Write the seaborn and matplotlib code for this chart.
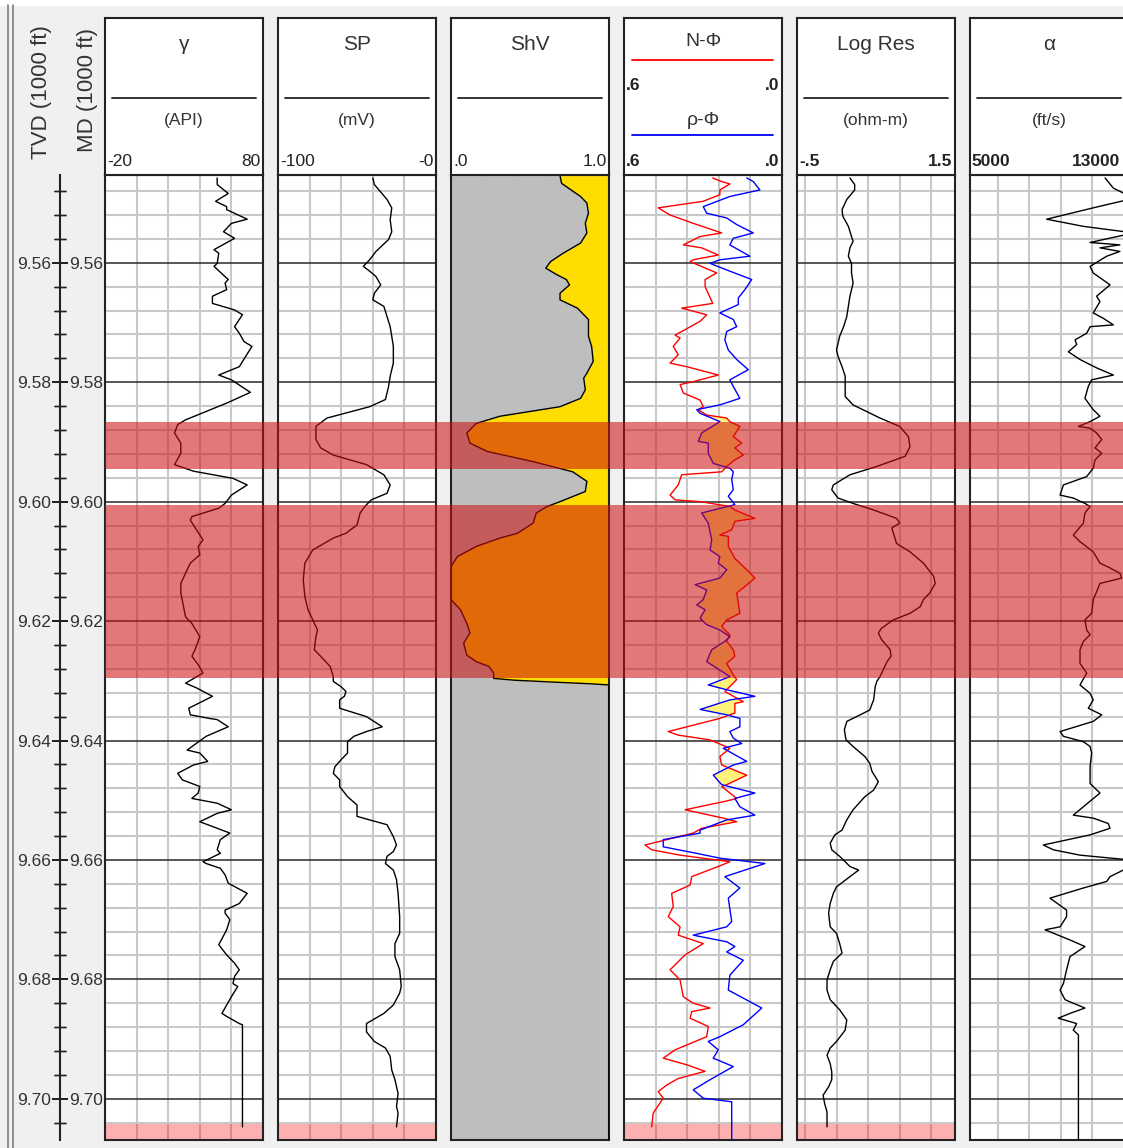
import numpy as np
import matplotlib
matplotlib.use("Agg")
import matplotlib.pyplot as plt
from matplotlib.lines import Line2D
from matplotlib.patches import Rectangle
from matplotlib.ticker import MultipleLocator, FormatStrFormatter
import seaborn as sns

# ---------------- log data (depth in ft, values in track units) ----------------
gr_depth = [9545.8, 9546.9, 9548.4, 9549.7, 9550.6, 9551.1, 9552.7, 9553.4, 9554.8, 9555.9,
            9557.8, 9558.4, 9560.1, 9560.6, 9562.8, 9563.4, 9564.5, 9565.6, 9566.8, 9567.9,
            9568.7, 9570.7, 9571.8, 9573.2, 9574.0, 9575.7, 9577.4, 9578.8, 9579.3, 9579.6,
            9581.7, 9583.5, 9586.3, 9587.1, 9588.5, 9590.2, 9591.9, 9593.8, 9594.9, 9596.1,
            9597.2, 9598.9, 9600.3, 9601.1, 9602.5, 9603.1, 9606.4, 9607.5, 9608.9, 9610.3,
            9611.4, 9613.7, 9615.3, 9619.3, 9620.4, 9622.6, 9624.8,
            9625.9, 9627.3, 9628.7, 9630.4, 9631.2, 9632.6, 9634.6, 9635.7, 9636.3, 9636.5,
            9637.7, 9639.3, 9641.6, 9642.1, 9643.5, 9644.1, 9645.5, 9646.6, 9647.7, 9648.8,
            9649.7, 9650.5, 9651.6, 9652.2, 9653.6, 9655.5, 9656.6, 9658.3, 9658.9, 9660.3,
            9660.6, 9661.4, 9662.5, 9663.9, 9665.6, 9667.3, 9668.4, 9668.9, 9670.0, 9671.7,
            9674.2, 9675.9, 9677.3, 9678.4, 9679.5, 9680.7, 9681.2, 9682.9, 9684.3, 9685.7,
            9686.2, 9687.4, 9687.6, 9704.7]
gr_api = [51, 51, 58, 50, 57, 57, 70, 60, 55, 62,
          49, 52, 51, 49, 58, 56, 57, 48, 48, 62,
          67, 62, 65, 68, 73, 69, 65, 52, 57, 60,
          72, 57, 31, 26, 24, 28, 28, 24, 36, 61,
          70, 60, 56, 52, 35, 34, 42, 39, 40, 34,
          32, 28, 28, 31, 35, 40, 37,
          35, 39, 42, 31, 38, 48, 33, 34, 46, 51,
          58, 44, 32, 40, 45, 36, 26, 29, 40, 39,
          35, 51, 60, 51, 40, 59, 53, 51, 53, 42,
          44, 53, 56, 58, 70, 65, 56, 56, 59, 57,
          52, 57, 62, 65, 62, 61, 64, 60, 57, 54,
          57, 65, 67, 67]

sp_depth = [9545.8, 9546.9, 9549.4, 9550.8, 9552.8, 9554.8, 9556.1, 9558.1, 9559.5, 9560.6,
            9561.4, 9562.3, 9563.7, 9565.1, 9566.2, 9567.3, 9569.0, 9570.7, 9574.0, 9576.8,
            9579.0, 9580.7, 9582.9, 9584.1, 9586.0, 9587.4, 9589.6, 9591.0, 9592.2, 9593.8,
            9595.5, 9597.2, 9598.6, 9599.7, 9600.8, 9601.9, 9603.9, 9605.3, 9606.1, 9608.1,
            9610.3, 9613.1, 9615.9, 9618.1, 9619.8, 9621.5, 9622.6,
            9624.8, 9625.9, 9627.6, 9629.3, 9630.1, 9631.0, 9631.8, 9632.6, 9633.2, 9634.6,
            9636.0, 9637.7, 9638.5, 9639.3, 9640.2, 9642.1, 9643.2, 9644.4, 9645.5, 9646.6,
            9647.7, 9649.4, 9650.8, 9652.7, 9653.3, 9654.1, 9656.1, 9657.5, 9658.6, 9659.4,
            9660.6, 9661.7, 9663.3, 9665.6, 9669.5, 9672.3, 9674.0, 9676.2, 9678.4, 9681.2,
            9682.3, 9684.3, 9685.7, 9687.4, 9688.8, 9690.4, 9691.5, 9692.9, 9695.2, 9696.8,
            9699.1, 9701.3, 9702.4, 9704.7]
sp_mv = [-40, -39, -31, -28, -29, -28, -30, -38, -42, -46,
         -42, -38, -35, -39, -40, -33, -31, -29, -27, -27,
         -29, -30, -32, -42, -69, -76, -76, -73, -65, -44,
         -33, -29, -31, -41, -45, -48, -50, -57, -65, -78,
         -83, -84, -83, -81, -78, -75, -76,
         -77, -73, -67, -65, -65, -60, -57, -58, -61, -61,
         -44, -34, -44, -52, -56, -56, -60, -64, -65, -61,
         -61, -56, -50, -50, -42, -31, -27, -25, -27, -31,
         -32, -27, -25, -24, -23, -23, -26, -26, -23, -22,
         -23, -27, -33, -44, -44, -39, -32, -29, -28, -26,
         -24, -25, -24, -25]

shv_depth = [9545.4, 9546.7, 9548.9, 9550.0, 9551.7, 9553.4, 9555.0, 9556.7, 9558.4, 9559.8,
             9560.9, 9562.0, 9562.8, 9563.7, 9565.1, 9566.2, 9567.6, 9569.5, 9572.3, 9574.0,
             9576.5, 9578.5, 9579.3, 9581.3, 9582.7, 9584.1, 9585.7, 9586.9, 9588.5, 9590.2,
             9591.6, 9593.3, 9595.0, 9596.6, 9598.3, 9600.0, 9600.8, 9601.9, 9603.6, 9605.3,
             9606.1, 9607.5, 9609.2, 9610.9, 9616.4, 9618.1, 9620.4, 9622.0, 9623.7,
             9625.7, 9626.8, 9627.6, 9628.7, 9629.6, 9629.9, 9630.2, 9630.5, 9630.7, 9706.9]
shv_frac = [0.69, 0.70, 0.82, 0.86, 0.87, 0.85, 0.86, 0.82, 0.71, 0.63,
            0.60, 0.67, 0.73, 0.75, 0.69, 0.69, 0.80, 0.87, 0.87, 0.89,
            0.90, 0.86, 0.84, 0.85, 0.82, 0.69, 0.31, 0.16, 0.10, 0.12,
            0.23, 0.52, 0.77, 0.86, 0.85, 0.69, 0.61, 0.54, 0.52, 0.42,
            0.31, 0.16, 0.04, 0.00, 0.00, 0.06, 0.10, 0.12, 0.08,
            0.10, 0.16, 0.24, 0.27, 0.27, 0.40, 0.63, 0.88, 1.00, 1.00]

nphi_depth = [9545.8, 9546.4, 9546.8, 9547.8, 9548.6, 9549.7, 9550.8, 9552.0, 9553.4, 9555.0,
              9555.6, 9557.0, 9557.5, 9558.7, 9559.5, 9559.8, 9561.7, 9562.8, 9564.0, 9566.8,
              9567.6, 9568.7, 9569.8, 9571.2, 9572.1, 9572.6, 9574.0, 9575.4, 9576.8, 9577.4,
              9578.8, 9579.9, 9580.4, 9581.8, 9583.0, 9584.1, 9584.6, 9585.5, 9586.0, 9586.6,
              9587.4, 9589.1, 9590.2, 9591.0, 9592.2, 9593.0, 9594.1, 9595.0, 9595.5, 9597.2,
              9598.9, 9599.7, 9600.0, 9600.8, 9601.4, 9602.8, 9603.3, 9604.7, 9605.6, 9605.8,
              9607.5, 9609.5, 9611.4, 9612.8, 9614.2, 9615.3, 9618.7, 9619.8, 9620.9, 9622.3,
              9623.4, 9624.8, 9625.9, 9627.1, 9629.0, 9629.8, 9631.5, 9631.8, 9633.5, 9633.8,
              9635.4, 9636.3, 9638.5, 9639.1, 9639.9, 9641.3, 9642.7, 9644.1, 9645.8, 9647.4,
              9647.7, 9649.7, 9650.2, 9651.6, 9653.0, 9653.6, 9654.7, 9655.5, 9657.5, 9658.3,
              9659.2, 9660.3, 9661.1, 9662.8, 9664.2, 9665.6, 9667.8, 9669.5, 9671.2, 9672.6,
              9674.0, 9675.9, 9678.4, 9680.1, 9682.9, 9684.0, 9684.8, 9685.4, 9686.5, 9687.9,
              9689.6, 9691.8, 9693.2, 9694.3, 9695.4, 9696.6, 9697.7, 9698.8, 9699.9, 9702.4,
              9704.7]
nphi = [0.263, 0.229, 0.198, 0.236, 0.236, 0.299, 0.470, 0.425, 0.337, 0.229,
        0.311, 0.375, 0.305, 0.242, 0.337, 0.349, 0.248, 0.292, 0.292, 0.263,
        0.381, 0.286, 0.311, 0.368, 0.406, 0.387, 0.413, 0.394, 0.425, 0.362,
        0.242, 0.337, 0.387, 0.375, 0.311, 0.299, 0.318, 0.286, 0.210, 0.198,
        0.160, 0.185, 0.153, 0.179, 0.147, 0.179, 0.210, 0.229, 0.381, 0.394,
        0.425, 0.406, 0.311, 0.198, 0.179, 0.103, 0.179, 0.191, 0.236, 0.204,
        0.204, 0.179, 0.134, 0.103, 0.141, 0.172, 0.160, 0.210, 0.229, 0.198,
        0.210, 0.185, 0.179, 0.210, 0.185, 0.172, 0.210, 0.217, 0.147, 0.179,
        0.179, 0.236, 0.432, 0.394, 0.273, 0.198, 0.236, 0.229, 0.134, 0.210,
        0.229, 0.172, 0.217, 0.368, 0.223, 0.172, 0.305, 0.337, 0.520, 0.495,
        0.387, 0.198, 0.242, 0.343, 0.349, 0.419, 0.413, 0.432, 0.387, 0.394,
        0.299, 0.368, 0.425, 0.387, 0.375, 0.337, 0.273, 0.343, 0.349, 0.280,
        0.286, 0.406, 0.451, 0.362, 0.292, 0.394, 0.438, 0.470, 0.451, 0.489,
        0.495]

rhob_depth = [9545.8, 9546.4, 9547.8, 9548.9, 9550.6, 9551.7, 9552.5, 9553.6, 9555.0, 9555.9,
              9557.0, 9558.9, 9559.5, 9560.1, 9561.2, 9562.8, 9564.5, 9565.9, 9567.0, 9568.4,
              9569.5, 9570.7, 9571.5, 9572.9, 9574.6, 9576.2, 9577.9, 9579.6, 9580.7, 9582.7,
              9583.8, 9584.6, 9585.2, 9586.6, 9588.5, 9589.9, 9590.2, 9591.9, 9593.6, 9594.4,
              9595.0, 9596.3, 9598.0, 9599.1, 9600.5, 9601.9, 9603.6, 9606.4, 9608.1, 9609.2,
              9610.3, 9611.4, 9612.8, 9613.9, 9614.8, 9616.4, 9617.3, 9618.1, 9619.5, 9620.6,
              9621.5, 9622.6, 9623.4, 9624.8,
              9626.8, 9628.2, 9629.3, 9630.7, 9631.5, 9632.6, 9633.2, 9634.8, 9635.7, 9636.3,
              9637.7, 9638.5, 9639.6, 9640.5, 9641.3, 9643.5, 9644.1, 9645.8, 9647.4, 9648.8,
              9649.7, 9651.1, 9652.5, 9653.3, 9655.0, 9655.5, 9656.6, 9657.8, 9658.9, 9659.7,
              9660.6, 9662.8, 9664.7, 9666.4, 9670.3, 9671.2, 9672.6, 9673.7, 9674.5, 9675.4,
              9676.8, 9679.3, 9681.8, 9684.8, 9687.6, 9689.6, 9690.4, 9691.8, 9693.2, 9694.6,
              9696.8, 9698.5, 9699.9, 9700.5, 9706.9]
rhob_phi = [0.134, 0.109, 0.084, 0.198, 0.299, 0.286, 0.210, 0.172, 0.109, 0.185,
            0.198, 0.122, 0.236, 0.273, 0.210, 0.115, 0.141, 0.166, 0.166, 0.236,
            0.185, 0.172, 0.210, 0.217, 0.204, 0.172, 0.128, 0.198, 0.185, 0.160,
            0.236, 0.324, 0.311, 0.236, 0.305, 0.318, 0.280, 0.280, 0.261, 0.198,
            0.185, 0.191, 0.185, 0.204, 0.179, 0.305, 0.280, 0.267, 0.273, 0.236,
            0.242, 0.210, 0.236, 0.330, 0.286, 0.299, 0.324, 0.292, 0.311, 0.286,
            0.236, 0.198, 0.217, 0.267,
            0.286, 0.236, 0.198, 0.280, 0.210, 0.103, 0.198, 0.311, 0.210, 0.160,
            0.160, 0.198, 0.185, 0.153, 0.223, 0.134, 0.185, 0.261, 0.229, 0.103,
            0.179, 0.160, 0.103, 0.210, 0.311, 0.311, 0.451, 0.451, 0.324, 0.236,
            0.065, 0.217, 0.160, 0.204, 0.191, 0.210, 0.337, 0.210, 0.179, 0.210,
            0.147, 0.198, 0.204, 0.077, 0.147, 0.236, 0.280, 0.242, 0.261, 0.185,
            0.273, 0.337, 0.299, 0.191, 0.191]

res_depth = [9545.8, 9546.9, 9547.8, 9549.4, 9551.1, 9552.2, 9553.9, 9555.6, 9556.4, 9557.5,
             9558.9, 9560.1, 9561.7, 9563.4, 9565.6, 9567.3, 9569.0, 9570.7, 9572.3, 9574.6,
             9575.7, 9577.4, 9579.0, 9582.4, 9583.8, 9586.0, 9587.4, 9589.1, 9590.8, 9592.4,
             9594.1, 9595.5, 9597.2, 9598.0, 9599.4, 9600.3, 9601.4, 9602.8, 9603.6, 9604.4,
             9607.0, 9608.4, 9610.3, 9612.5, 9613.7, 9615.3, 9616.4, 9617.6, 9618.7, 9619.8,
             9621.2, 9622.0, 9623.1, 9624.8,
             9625.9, 9626.8, 9628.2, 9629.3, 9630.1, 9631.0, 9633.2, 9634.9, 9635.7, 9636.8,
             9638.2, 9639.9, 9641.0, 9642.7, 9643.8, 9645.2, 9646.9, 9648.3, 9649.4, 9651.6,
             9653.3, 9655.0, 9655.8, 9657.2, 9658.3, 9659.4, 9660.3, 9661.1, 9661.7, 9662.8,
             9664.5, 9665.6, 9667.3, 9668.9, 9671.2, 9672.3, 9674.0, 9675.6, 9677.0, 9678.4,
             9680.1, 9681.8, 9683.4, 9685.1, 9686.8, 9688.5, 9690.4, 9691.5, 9692.7, 9694.1,
             9695.5, 9696.8, 9698.0, 9699.4, 9700.8, 9702.2, 9704.7]
log_res = [0.17, 0.23, 0.23, 0.13, 0.07, 0.08, 0.15, 0.19, 0.21, 0.17,
           0.15, 0.19, 0.19, 0.21, 0.17, 0.15, 0.13, 0.09, 0.04, 0.00,
           0.02, 0.07, 0.11, 0.11, 0.21, 0.55, 0.80, 0.91, 0.93, 0.87,
           0.51, 0.17, -0.04, -0.06, 0.02, 0.21, 0.47, 0.76, 0.80, 0.70,
           0.76, 0.93, 1.10, 1.23, 1.25, 1.18, 1.10, 1.06, 0.93, 0.72,
           0.57, 0.53, 0.57, 0.68,
           0.69, 0.64, 0.59, 0.55, 0.51, 0.49, 0.47, 0.42, 0.30, 0.13,
           0.10, 0.12, 0.21, 0.36, 0.42, 0.45, 0.53, 0.47, 0.36, 0.21,
           0.13, 0.07, -0.02, -0.08, -0.06, 0.04, 0.11, 0.17, 0.28, 0.17,
           0.00, -0.04, -0.08, -0.10, -0.08, 0.00, 0.04, 0.07, -0.04, -0.08,
           -0.12, -0.12, -0.08, 0.04, 0.13, 0.11, 0.00, -0.08, -0.12, -0.08,
           -0.06, -0.06, -0.10, -0.17, -0.15, -0.12, -0.12]

vp_depth = [9545.8, 9547.5, 9549.2, 9550.8, 9552.7, 9553.9, 9555.0, 9556.6, 9557.0, 9557.5,
            9558.1, 9558.9, 9560.6, 9561.7, 9563.7, 9565.6, 9566.5, 9568.4, 9569.3, 9570.4,
            9570.7, 9571.8, 9572.9, 9573.7, 9574.9, 9576.2, 9577.6, 9578.8, 9579.6, 9580.7,
            9582.7, 9584.6, 9585.7, 9586.6, 9587.4, 9587.7, 9588.5, 9589.6, 9591.0, 9591.9,
            9593.0, 9594.4, 9595.8, 9597.2, 9598.9, 9599.4, 9600.3, 9600.8, 9601.9, 9603.6,
            9605.6, 9606.7, 9608.4, 9610.3, 9611.1, 9612.0, 9612.8, 9613.7, 9615.1, 9616.4,
            9618.7, 9619.8, 9621.5, 9622.3, 9623.4, 9624.8,
            9627.1, 9628.7, 9630.7, 9632.1, 9633.2, 9634.6, 9635.7, 9636.8, 9638.5, 9639.3,
            9640.2, 9641.0, 9642.1, 9644.4, 9647.2, 9648.8, 9651.1, 9652.5, 9653.0, 9653.9,
            9654.7, 9655.8, 9657.5, 9658.3, 9659.2, 9660.0, 9661.7, 9662.8, 9663.6, 9664.7,
            9666.4, 9668.4, 9669.5, 9671.2, 9671.7, 9673.4, 9674.5, 9676.2, 9678.4, 9680.7,
            9681.8, 9683.4, 9684.0, 9684.8, 9685.7, 9686.5, 9687.4, 9688.5, 9689.3, 9706.9]
vp_fts = [11840, 12260, 13300, 11240, 8880, 10740, 13300, 11080, 12590, 11580,
          12590, 11920, 11080, 11240, 12090, 11410, 11580, 11240, 11750, 12260,
          11080, 10910, 10320, 10400, 9980, 10570, 11410, 12260, 11160, 10990,
          10820, 11240, 11580, 11080, 10490, 11080, 11410, 11670, 11330, 11670,
          11330, 11240, 10910, 9730, 9560, 10230, 10820, 11080, 10820, 10740,
          10230, 10570, 11240, 11580, 12090, 12590, 12680, 11580, 11410, 11240,
          11160, 10820, 10910, 11080, 10740, 10570,
          10570, 10910, 10570, 11080, 11240, 10990, 11670, 11240, 9560, 9730,
          10740, 11080, 11160, 11080, 11080, 11580, 10740, 10230, 11240, 12000,
          12090, 11080, 8710, 9220, 10570, 13100, 12760, 12090, 11920, 10740,
          9050, 9890, 9890, 9560, 8800, 10060, 10820, 10060, 9890, 9730,
          9560, 9810, 10230, 10820, 10060, 9470, 10400, 10230, 10490, 10490]

# zones
band_top = [9586.6, 9600.5]
band_base = [9594.5, 9629.5]
nodata_top, nodata_base = 9704.3, 9706.9
depth_top, depth_base = 9545.3, 9706.9

track_titles = ["γ", "SP", "ShV", None, "Log Res", "α"]
track_units = ["(API)", "(mV)", "", None, "(ohm-m)", "(ft/s)"]
track_min = [-20, -100, 0.0, 0.6, -0.5, 5000]
track_max = [80, 0, 1.0, 0.0, 1.5, 13000]
min_labels = ["-20", "-100", ".0", ".6", "-.5", "5000"]
max_labels = ["80", "-0", "1.0", ".0", "1.5", "13000"]
bold_scale = [False, False, False, True, True, True]

# ---------------- figure ----------------
sns.set_style("white")
plt.rcParams["font.family"] = ["Liberation Sans", "DejaVu Sans"]

W, H = 1123, 1148
fig = plt.figure(figsize=(W / 100, H / 100), dpi=100, facecolor="#f0f0f0")


def px_box(x0, y0, x1, y1):
    return [x0 / W, 1 - y1 / H, (x1 - x0) / W, (y1 - y0) / H]


track_x = [105, 278, 451, 624, 797, 970]
tw = 158
head_y0, data_y0, data_y1 = 18, 175, 1140
txt = "#222222"

fig.patches.append(Rectangle((0, 1 - 5 / H), 1, 5 / H, transform=fig.transFigure,
                             color="white", zorder=0))
for xl in (8, 13):
    fig.add_artist(Line2D([xl / W, xl / W], [0, 1 - 5 / H], color="#808080", lw=1.2))

axes = []
for i, x0 in enumerate(track_x):
    ax = fig.add_axes(px_box(x0, data_y0, x0 + tw, data_y1))
    ax.set_facecolor("white")
    ax.set_xlim(track_min[i], track_max[i])
    ax.set_ylim(depth_base / 1000, depth_top / 1000)
    ax.xaxis.set_major_locator(MultipleLocator(abs(track_max[i] - track_min[i]) / 5))
    ax.yaxis.set_major_locator(MultipleLocator(0.02))
    ax.yaxis.set_minor_locator(MultipleLocator(0.004))
    ax.set_axisbelow(True)
    ax.yaxis.grid(True, which="minor", color="#c8c8c8", lw=1.5)
    ax.xaxis.grid(True, which="major", color="#c8c8c8", lw=1.5)
    ax.yaxis.grid(True, which="major", color="#2a2a2a", lw=1.1)
    ax.tick_params(which="both", length=0, labelbottom=False, labelleft=False)
    for s in ax.spines.values():
        s.set_color("#222222")
        s.set_linewidth(1.5)
    axes.append(ax)

# no-data strip at the base
for i in (0, 1, 3, 4):
    axes[i].axhspan(nodata_top / 1000, nodata_base / 1000, color="red", alpha=0.31, lw=0)


def curve(ax, vals, depth, color="black"):
    sns.lineplot(x=vals, y=np.array(depth) / 1000, ax=ax, sort=False, estimator=None,
                 color=color, lw=1.0, legend=False, zorder=3)
    ax.set_xlabel("")
    ax.set_ylabel("")


curve(axes[0], gr_api, gr_depth)
curve(axes[1], sp_mv, sp_depth)

d3 = np.array(shv_depth) / 1000
axes[2].fill_betweenx(d3, 0, shv_frac, color="#bebebe", lw=0, zorder=2)
axes[2].fill_betweenx(d3, shv_frac, 1, color="#ffdd00", lw=0, zorder=2)
curve(axes[2], shv_frac, shv_depth)

dd = np.union1d(nphi_depth, rhob_depth)
n_i = np.interp(dd, nphi_depth, nphi)
r_i = np.interp(dd, rhob_depth, rhob_phi)
axes[3].fill_betweenx(dd / 1000, n_i, r_i, where=n_i < r_i, interpolate=True,
                      color="#fff27a", lw=0, zorder=2)
curve(axes[3], nphi, nphi_depth, "#ff0000")
curve(axes[3], rhob_phi, rhob_depth, "#0000ff")

curve(axes[4], log_res, res_depth)
curve(axes[5], vp_fts, vp_depth)

# reservoir zones across all tracks
oax = fig.add_axes(px_box(105, data_y0, W + 10, data_y1), zorder=5)
oax.set_xlim(0, 1)
oax.set_ylim(depth_base / 1000, depth_top / 1000)
oax.axis("off")
for t, b in zip(band_top, band_base):
    oax.axhspan(t / 1000, b / 1000, color=(0.80, 0.06, 0.06), alpha=0.56, lw=0)

# depth scale
dax = fig.add_axes(px_box(60, data_y0, 60.05, data_y1))
dax.set_facecolor("none")
dax.set_ylim(depth_base / 1000, depth_top / 1000)
dax.set_xticks([])
for k in ("top", "bottom", "right"):
    dax.spines[k].set_visible(False)
dax.spines["left"].set_linewidth(1.5)
dax.spines["left"].set_color("#222222")
dax.yaxis.set_major_locator(MultipleLocator(0.02))
dax.yaxis.set_minor_locator(MultipleLocator(0.004))
dax.yaxis.set_major_formatter(FormatStrFormatter("%.2f"))
dax.tick_params(which="both", direction="inout", left=True, right=True,
                labelleft=True, labelright=True, labelsize=12.5, pad=0.5,
                colors="#222222", labelcolor="#333333")
dax.tick_params(which="major", length=12, width=1.3)
dax.tick_params(which="minor", length=8.5, width=1.0)

fig.text(42 / W, 1 - 92 / H, "TVD (1000 ft)", rotation=90, ha="center", va="center",
         fontsize=16, color="#333333")
fig.text(87 / W, 1 - 90 / H, "MD (1000 ft)", rotation=90, ha="center", va="center",
         fontsize=16, color="#333333")

# headers
for i, x0 in enumerate(track_x):
    hax = fig.add_axes(px_box(x0, head_y0, x0 + tw, data_y0))
    hax.set_facecolor("white")
    hax.set_xlim(0, 1)
    hax.set_ylim(0, 1)
    hax.set_xticks([])
    hax.set_yticks([])
    for s in hax.spines.values():
        s.set_color("#222222")
        s.set_linewidth(1.5)
    fw = "bold" if bold_scale[i] else "normal"
    if track_titles[i] is None:
        hax.text(0.5, 0.85, "N-Φ", ha="center", va="center", fontsize=14, color="#333333")
        hax.axhline(0.73, 0.05, 0.94, color="#ff0000", lw=1.3)
        hax.text(0.012, 0.567, ".6", ha="left", va="center", fontsize=12.5, fontweight="bold", color=txt)
        hax.text(0.985, 0.567, ".0", ha="right", va="center", fontsize=12.5, fontweight="bold", color=txt)
        hax.text(0.5, 0.35, "ρ-Φ", ha="center", va="center", fontsize=14, color="#333333")
        hax.axhline(0.255, 0.05, 0.94, color="#0000ff", lw=1.3)
    else:
        hax.text(0.5, 0.83, track_titles[i], ha="center", va="center", fontsize=15, color="#333333")
        hax.axhline(0.49, 0.045, 0.955, color="#222222", lw=1.3)
        hax.text(0.5, 0.35, track_units[i], ha="center", va="center", fontsize=12.5, color="#333333")
    # last track runs past the picture edge, keep its right label inside
    right_x = 0.95 if i == len(track_x) - 1 else 0.985
    hax.text(0.012, 0.083, min_labels[i], ha="left", va="center", fontsize=12.5,
             fontweight=fw, color=txt)
    hax.text(right_x, 0.083, max_labels[i], ha="right", va="center", fontsize=12.5,
             fontweight=fw, color=txt)

fig.savefig("out.png", dpi=100, facecolor=fig.get_facecolor())
